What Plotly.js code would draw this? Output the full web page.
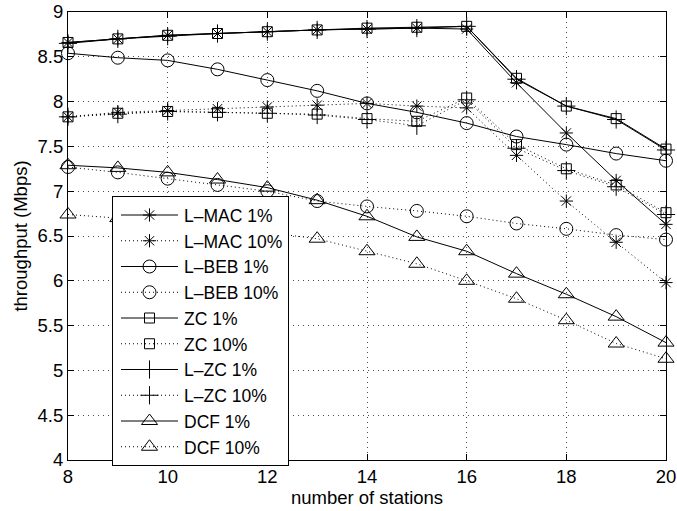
<!DOCTYPE html>
<html>
<head>
<meta charset="utf-8">
<script src="https://cdn.plot.ly/plotly-3.0.1.min.js"></script>
<style>html,body{margin:0;padding:0;background:#fff;}#chart{width:677px;height:511px;}</style>
</head>
<body>
<div id="chart"></div>
<script>
const stations = [8, 9, 10, 11, 12, 13, 14, 15, 16, 17, 18, 19, 20];
const seriesNames = ["L–MAC 1%", "L–MAC 10%", "L–BEB 1%", "L–BEB 10%", "ZC 1%", "ZC 10%", "L–ZC 1%", "L–ZC 10%", "DCF 1%", "DCF 10%"];
const lmac1  = [8.66, 8.70, 8.74, 8.76, 8.78, 8.80, 8.81, 8.82, 8.81, 8.21, 7.65, 7.12, 6.63];
const lmac10 = [7.83, 7.88, 7.90, 7.92, 7.94, 7.96, 7.98, 7.95, 7.93, 7.40, 6.89, 6.43, 5.98];
const lbeb1  = [8.54, 8.49, 8.46, 8.36, 8.24, 8.12, 7.98, 7.88, 7.76, 7.61, 7.52, 7.42, 7.34];
const lbeb10 = [7.27, 7.21, 7.14, 7.07, 7.00, 6.89, 6.83, 6.78, 6.72, 6.64, 6.58, 6.51, 6.46];
const zc1    = [8.66, 8.70, 8.74, 8.76, 8.78, 8.80, 8.82, 8.83, 8.84, 8.26, 7.95, 7.81, 7.47];
const zc10   = [7.83, 7.87, 7.89, 7.88, 7.87, 7.86, 7.81, 7.78, 8.04, 7.52, 7.25, 7.07, 6.76];
const lzc1   = [8.65, 8.70, 8.73, 8.76, 8.78, 8.80, 8.81, 8.82, 8.84, 8.25, 7.95, 7.80, 7.46];
const lzc10  = [7.83, 7.86, 7.89, 7.88, 7.87, 7.85, 7.80, 7.73, 8.02, 7.48, 7.23, 7.05, 6.74];
const dcf1   = [7.29, 7.26, 7.21, 7.13, 7.04, 6.90, 6.72, 6.49, 6.33, 6.08, 5.85, 5.60, 5.31];
const dcf10  = [6.74, 6.70, 6.65, 6.60, 6.54, 6.47, 6.33, 6.19, 6.00, 5.80, 5.56, 5.30, 5.13];
const xTicks = [8, 10, 12, 14, 16, 18, 20];
const yTicks = [4, 4.5, 5, 5.5, 6, 6.5, 7, 7.5, 8, 8.5, 9];

const seriesData = [lmac1, lmac10, lbeb1, lbeb10, zc1, zc10, lzc1, lzc10, dcf1, dcf10];
const symbols = ["asterisk-open", "asterisk-open", "circle-open", "circle-open", "square-open", "square-open",
                 "cross-thin-open", "cross-thin-open", "triangle-up-open", "triangle-up-open"];
const sizes = [11, 11, 13, 13, 10, 10, 13, 13, 14, 14];

const traces = seriesData.map((ys, i) => ({
  x: stations,
  y: ys,
  name: seriesNames[i],
  type: "scatter",
  mode: "lines+markers",
  cliponaxis: false,
  line: {color: "#000", width: 1, dash: (i % 2 === 1) ? "1px,3px" : "solid"},
  marker: {symbol: symbols[i], size: sizes[i], color: "#000", line: {color: "#000", width: 1}}
}));

const fontFam = "Liberation Sans, Arial, Helvetica, sans-serif";
const axisCommon = {
  showline: true, linecolor: "#000", linewidth: 1, mirror: "ticks",
  ticks: "inside", ticklen: 6, tickcolor: "#000",
  showgrid: true, gridcolor: "rgba(0,0,0,0.7)", griddash: "1px,4px", gridwidth: 1,
  zeroline: false, tickfont: {size: 18.5}
};
const layout = {
  width: 677, height: 511,
  margin: {l: 68, r: 11, t: 12, b: 51},
  paper_bgcolor: "#fff", plot_bgcolor: "#fff",
  font: {family: fontFam, size: 18.5, color: "#000"},
  showlegend: true,
  xaxis: Object.assign({}, axisCommon, {
    range: [8, 20], tickvals: xTicks, ticktext: xTicks.map(String),
    title: {text: "number of stations", font: {size: 18.5}, standoff: 3}
  }),
  yaxis: Object.assign({}, axisCommon, {
    range: [4, 9], tickvals: yTicks, ticktext: yTicks.map(String),
    title: {text: "throughput (Mbps)", font: {size: 18.5}, standoff: 5}
  }),
  legend: {
    x: 0.0736, y: 0.589, xanchor: "left", yanchor: "top",
    bgcolor: "#fff", bordercolor: "#000", borderwidth: 1,
    font: {size: 17.5, family: fontFam},
    itemwidth: 61,
    tracegroupgap: 0
  }
};

Plotly.newPlot("chart", traces, layout, {displayModeBar: false, staticPlot: true}).then(gd => {
  // widen legend line samples to match the original legend style
  gd.querySelectorAll(".legend .traces").forEach(tr => {
    tr.querySelectorAll(".legendlines path").forEach(p => p.setAttribute("d", "M8,0h57"));
    tr.querySelectorAll(".legendsymbols path.scatterpts").forEach(p => p.setAttribute("transform", "translate(36.5,0)"));
  });
});
</script>
</body>
</html>
